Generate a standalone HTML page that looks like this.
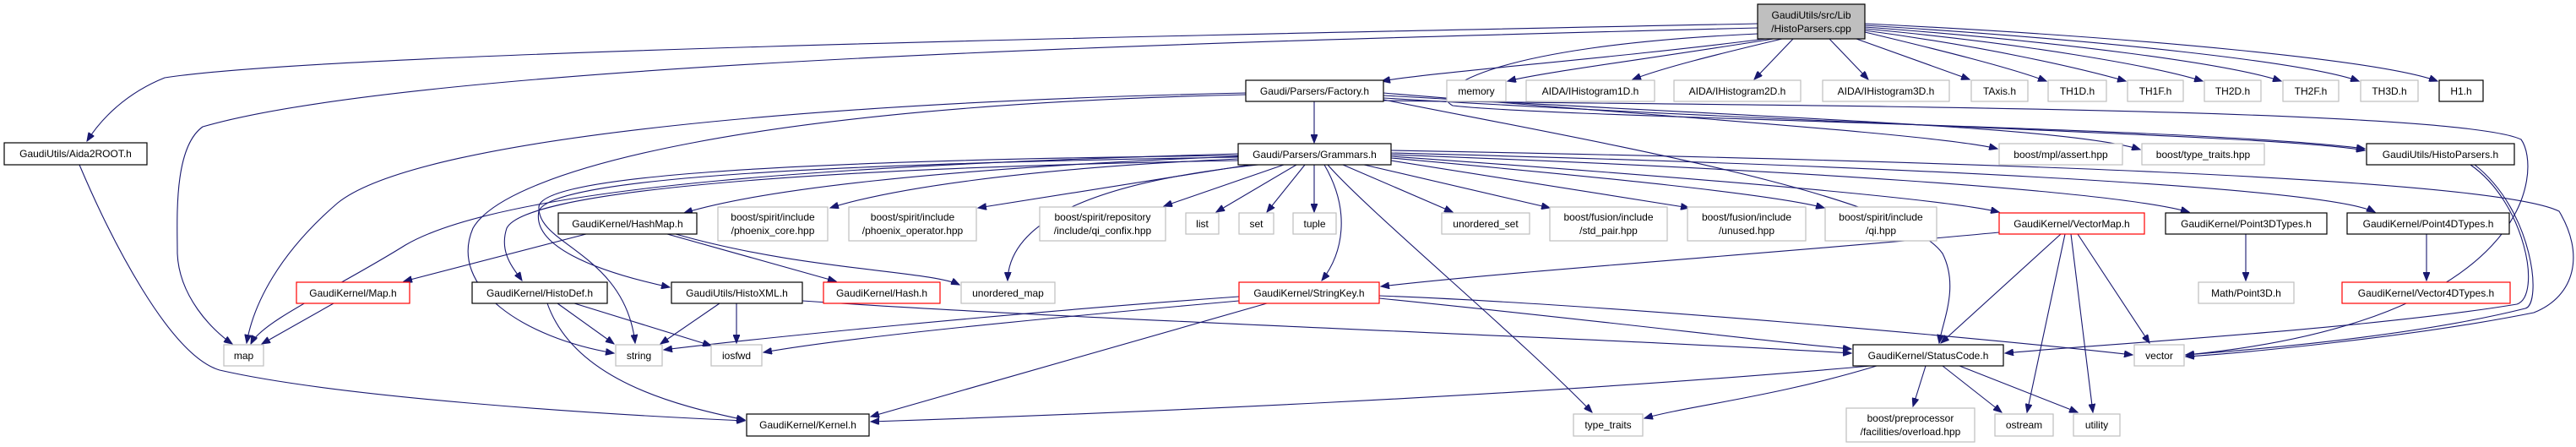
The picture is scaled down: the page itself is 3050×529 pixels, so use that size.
<!DOCTYPE html>
<html><head><meta charset="utf-8"><style>
html,body{margin:0;padding:0;background:#fff;}
svg{display:block;}
text{font-family:"Liberation Sans",Arial,sans-serif;font-size:12px;fill:#000;}
.e{fill:none;stroke:#191970;stroke-width:1.1;marker-end:url(#a);}
.g{fill:#fff;stroke:#bfbfbf;stroke-width:1.2;}
.b{fill:#fff;stroke:#000;stroke-width:1.2;}
.r{fill:#fff;stroke:#ff0000;stroke-width:1.2;}
</style></head><body>
<svg width="3050" height="529" viewBox="0 0 3050 529" xmlns="http://www.w3.org/2000/svg">
<defs><marker id="a" markerUnits="userSpaceOnUse" markerWidth="11" markerHeight="8" refX="10" refY="4" orient="auto"><path d="M0,0 L10,4 L0,8 z" fill="#191970" stroke="#191970"/></marker></defs>
<g>
<!-- main -->
<path class="e" d="M2081,28 C1500,40 400,60 195,92 C150,110 120,140 103,167"/>
<path class="e" d="M2081,33 C1400,50 500,75 240,150 C205,175 210,260 210,300 C212,350 250,390 275,407"/>
<path class="e" d="M2090,46 C1900,70 1700,85 1636,96"/>
<path class="e" d="M2100,46 C1950,70 1830,85 1785,96"/>
<path class="e" d="M2110,46 C2030,65 1970,80 1933,94"/>
<path class="e" d="M2123,46 L2077,94"/>
<path class="e" d="M2166,46 L2212,94"/>
<path class="e" d="M2198,46 L2332,94"/>
<path class="e" d="M2208,38 C2300,60 2380,80 2423,96"/>
<path class="e" d="M2208,36 C2350,55 2460,80 2517,96"/>
<path class="e" d="M2208,34 C2400,52 2550,78 2608,96"/>
<path class="e" d="M2208,32 C2450,50 2640,76 2701,96"/>
<path class="e" d="M2208,30 C2500,48 2730,74 2793,96"/>
<path class="e" d="M2208,28 C2550,45 2820,72 2886,96"/>
<path class="e" d="M2081,40 C1750,55 1690,110 1720,125 C1850,140 2600,150 2800,176"/>
<!-- Factory -->
<path class="e" d="M1556,120 L1556,169"/>
<path class="e" d="M1638,110 C2000,140 2300,160 2365,176"/>
<path class="e" d="M1638,113 C2100,140 2450,150 2534,177"/>
<path class="e" d="M1638,116 C2200,150 2700,160 2800,178"/>
<path class="e" d="M1638,118 C1900,170 2250,230 2300,300 C2320,340 2300,380 2296,406"/>
<path class="e" d="M1638,119 C2000,125 2900,125 2985,165 C3010,200 3000,380 2588,420"/>
<path class="e" d="M1475,110 C1000,120 500,160 400,240 C330,300 300,360 292,406"/>
<path class="e" d="M1475,112 C900,125 600,200 560,270 C530,340 620,400 727,418"/>
<!-- Grammars -->
<path class="e" d="M1466,185 C1100,200 900,225 810,252"/>
<path class="e" d="M1466,188 C1200,200 1050,225 983,246"/>
<path class="e" d="M1480,195 L1158,246"/>
<path class="e" d="M1520,195 L1378,244"/>
<path class="e" d="M1535,195 L1440,251"/>
<path class="e" d="M1545,195 L1500,251"/>
<path class="e" d="M1556,195 L1556,251"/>
<path class="e" d="M1590,195 L1720,251"/>
<path class="e" d="M1615,195 L1835,246"/>
<path class="e" d="M1647,190 L2000,246"/>
<path class="e" d="M1647,187 C1900,210 2100,230 2160,246"/>
<path class="e" d="M1647,185 C2000,210 2300,235 2367,251"/>
<path class="e" d="M1647,183 C2100,200 2500,225 2592,251"/>
<path class="e" d="M1647,181 C2200,195 2750,220 2812,251"/>
<path class="e" d="M1647,178 C2300,190 2950,210 3030,250 C3060,300 3050,350 3000,370 C2850,400 2650,418 2588,422"/>
<path class="e" d="M1466,182 C1000,195 600,220 480,290 C400,340 310,380 297,407"/>
<path class="e" d="M1490,195 C1300,215 1195,260 1193,332"/>
<path class="e" d="M1568,195 C1600,250 1590,300 1565,332"/>
<path class="e" d="M1572,195 C1620,250 1800,400 1885,488"/>
<path class="e" d="M1466,190 C900,200 620,230 600,270 C590,300 610,320 618,332"/>
<path class="e" d="M1466,186 C900,195 650,215 638,250 C630,290 700,320 793,340"/>
<path class="e" d="M1466,184 C900,190 640,210 638,245 C636,290 740,300 752,406"/>
<!-- HistoParsers.h -->
<path class="e" d="M2925,195 C2990,240 3010,350 2980,360 C2800,390 2450,410 2374,418"/>
<path class="e" d="M2930,195 C3000,250 3010,360 2990,365 C2850,400 2650,415 2588,420"/>
<!-- HashMap -->
<path class="e" d="M694,277 L478,333"/>
<path class="e" d="M790,277 L990,333"/>
<path class="e" d="M800,277 C950,320 1100,320 1136,337"/>
<path class="e" d="M395,359 L310,407"/>
<!-- HistoDef -->
<path class="e" d="M660,359 L727,407"/>
<path class="e" d="M680,359 L842,409"/>
<path class="e" d="M648,359 C680,450 800,480 882,497"/>
<!-- HistoXML -->
<path class="e" d="M852,359 L782,407"/>
<path class="e" d="M872,359 L872,406"/>
<path class="e" d="M950,356 C1300,380 1900,400 2192,418"/>
<!-- Aida2ROOT -->
<path class="e" d="M94,195 C130,280 200,420 260,438 C400,470 700,490 882,498"/>
<!-- StringKey -->
<path class="e" d="M1467,351 C1200,370 900,400 786,414"/>
<path class="e" d="M1467,356 C1200,380 1000,400 904,417"/>
<path class="e" d="M1500,359 L1031,493"/>
<path class="e" d="M1633,353 C1900,380 2100,405 2192,413"/>
<path class="e" d="M1633,350 C1900,360 2350,400 2525,420"/>
<!-- VectorMap -->
<path class="e" d="M2367,275 C2100,300 1800,320 1635,339"/>
<path class="e" d="M2440,277 L2298,406"/>
<path class="e" d="M2445,277 L2400,488"/>
<path class="e" d="M2452,277 L2478,488"/>
<path class="e" d="M2460,277 L2545,406"/>
<path class="e" d="M2659,277 L2659,332"/>
<path class="e" d="M2873,277 L2873,332"/>
<!-- StatusCode -->
<path class="e" d="M2215,433 C1800,470 1300,490 1031,499"/>
<path class="e" d="M2222,433 C2100,470 2000,480 1947,495"/>
<path class="e" d="M2280,433 L2265,481"/>
<path class="e" d="M2300,433 L2370,488"/>
<path class="e" d="M2320,433 L2460,488"/>
</g>
<g>
<rect x="2081" y="5" width="127" height="41" fill="#bfbfbf" stroke="#000" stroke-width="1.2"/>
<text x="2144.5" y="22" text-anchor="middle">GaudiUtils/src/Lib</text>
<text x="2144.5" y="38" text-anchor="middle">/HistoParsers.cpp</text>

<rect class="b" x="5" y="169" width="169" height="26"/><text x="89.5" y="186" text-anchor="middle">GaudiUtils/Aida2ROOT.h</text>
<rect class="b" x="1475" y="95" width="163" height="25"/><text x="1556.5" y="112" text-anchor="middle">Gaudi/Parsers/Factory.h</text>
<rect class="g" x="1713" y="95" width="70" height="25"/><text x="1748" y="112" text-anchor="middle">memory</text>
<rect class="g" x="1807" y="95" width="152" height="25"/><text x="1883" y="112" text-anchor="middle">AIDA/IHistogram1D.h</text>
<rect class="g" x="1982" y="95" width="150" height="25"/><text x="2057" y="112" text-anchor="middle">AIDA/IHistogram2D.h</text>
<rect class="g" x="2158" y="95" width="150" height="25"/><text x="2233" y="112" text-anchor="middle">AIDA/IHistogram3D.h</text>
<rect class="g" x="2334" y="95" width="67" height="25"/><text x="2367.5" y="112" text-anchor="middle">TAxis.h</text>
<rect class="g" x="2425" y="95" width="69" height="25"/><text x="2459.5" y="112" text-anchor="middle">TH1D.h</text>
<rect class="g" x="2519" y="95" width="66" height="25"/><text x="2552" y="112" text-anchor="middle">TH1F.h</text>
<rect class="g" x="2610" y="95" width="67" height="25"/><text x="2643.5" y="112" text-anchor="middle">TH2D.h</text>
<rect class="g" x="2703" y="95" width="66" height="25"/><text x="2736" y="112" text-anchor="middle">TH2F.h</text>
<rect class="g" x="2795" y="95" width="68" height="25"/><text x="2829" y="112" text-anchor="middle">TH3D.h</text>
<rect class="b" x="2888" y="95" width="52" height="25"/><text x="2914" y="112" text-anchor="middle">H1.h</text>

<rect class="b" x="1466" y="170" width="181" height="25"/><text x="1556.5" y="187" text-anchor="middle">Gaudi/Parsers/Grammars.h</text>
<rect class="g" x="2367" y="170" width="146" height="25"/><text x="2440" y="187" text-anchor="middle">boost/mpl/assert.hpp</text>
<rect class="g" x="2536" y="170" width="145" height="25"/><text x="2608.5" y="187" text-anchor="middle">boost/type_traits.hpp</text>
<rect class="b" x="2802" y="170" width="175" height="25"/><text x="2889.5" y="187" text-anchor="middle">GaudiUtils/HistoParsers.h</text>

<rect class="b" x="661" y="252" width="164" height="25"/><text x="743" y="269" text-anchor="middle">GaudiKernel/HashMap.h</text>
<rect class="g" x="850" y="245" width="130" height="40"/><text x="915" y="261" text-anchor="middle">boost/spirit/include</text><text x="915" y="277" text-anchor="middle">/phoenix_core.hpp</text>
<rect class="g" x="1005" y="245" width="151" height="40"/><text x="1080.5" y="261" text-anchor="middle">boost/spirit/include</text><text x="1080.5" y="277" text-anchor="middle">/phoenix_operator.hpp</text>
<rect class="g" x="1231" y="245" width="149" height="40"/><text x="1305.5" y="261" text-anchor="middle">boost/spirit/repository</text><text x="1305.5" y="277" text-anchor="middle">/include/qi_confix.hpp</text>
<rect class="g" x="1404" y="252" width="39" height="25"/><text x="1423.5" y="269" text-anchor="middle">list</text>
<rect class="g" x="1467" y="252" width="41" height="25"/><text x="1487.5" y="269" text-anchor="middle">set</text>
<rect class="g" x="1531" y="252" width="51" height="25"/><text x="1556.5" y="269" text-anchor="middle">tuple</text>
<rect class="g" x="1707" y="252" width="104" height="25"/><text x="1759" y="269" text-anchor="middle">unordered_set</text>
<rect class="g" x="1835" y="245" width="139" height="40"/><text x="1904.5" y="261" text-anchor="middle">boost/fusion/include</text><text x="1904.5" y="277" text-anchor="middle">/std_pair.hpp</text>
<rect class="g" x="1998" y="245" width="140" height="40"/><text x="2068" y="261" text-anchor="middle">boost/fusion/include</text><text x="2068" y="277" text-anchor="middle">/unused.hpp</text>
<rect class="g" x="2161" y="245" width="132" height="40"/><text x="2227" y="261" text-anchor="middle">boost/spirit/include</text><text x="2227" y="277" text-anchor="middle">/qi.hpp</text>
<rect class="r" x="2367" y="252" width="172" height="25"/><text x="2453" y="269" text-anchor="middle">GaudiKernel/VectorMap.h</text>
<rect class="b" x="2564" y="252" width="191" height="25"/><text x="2659.5" y="269" text-anchor="middle">GaudiKernel/Point3DTypes.h</text>
<rect class="b" x="2779" y="252" width="192" height="25"/><text x="2875" y="269" text-anchor="middle">GaudiKernel/Point4DTypes.h</text>

<rect class="r" x="351" y="334" width="134" height="25"/><text x="418" y="351" text-anchor="middle">GaudiKernel/Map.h</text>
<rect class="b" x="559" y="334" width="160" height="25"/><text x="639" y="351" text-anchor="middle">GaudiKernel/HistoDef.h</text>
<rect class="b" x="795" y="334" width="155" height="25"/><text x="872.5" y="351" text-anchor="middle">GaudiUtils/HistoXML.h</text>
<rect class="r" x="975" y="334" width="138" height="25"/><text x="1044" y="351" text-anchor="middle">GaudiKernel/Hash.h</text>
<rect class="g" x="1138" y="334" width="111" height="25"/><text x="1193.5" y="351" text-anchor="middle">unordered_map</text>
<rect class="r" x="1467" y="334" width="166" height="25"/><text x="1550" y="351" text-anchor="middle">GaudiKernel/StringKey.h</text>
<rect class="g" x="2603" y="334" width="113" height="25"/><text x="2659.5" y="351" text-anchor="middle">Math/Point3D.h</text>
<rect class="r" x="2773" y="334" width="199" height="25"/><text x="2872.5" y="351" text-anchor="middle">GaudiKernel/Vector4DTypes.h</text>

<rect class="g" x="265" y="408" width="47" height="25"/><text x="288.5" y="425" text-anchor="middle">map</text>
<rect class="g" x="729" y="408" width="55" height="25"/><text x="756.5" y="425" text-anchor="middle">string</text>
<rect class="g" x="842" y="408" width="60" height="25"/><text x="872" y="425" text-anchor="middle">iosfwd</text>
<rect class="b" x="2194" y="408" width="178" height="25"/><text x="2283" y="425" text-anchor="middle">GaudiKernel/StatusCode.h</text>
<rect class="g" x="2527" y="408" width="59" height="25"/><text x="2556.5" y="425" text-anchor="middle">vector</text>

<rect class="b" x="884" y="490" width="145" height="26"/><text x="956.5" y="507" text-anchor="middle">GaudiKernel/Kernel.h</text>
<rect class="g" x="1863" y="490" width="82" height="26"/><text x="1904" y="507" text-anchor="middle">type_traits</text>
<rect class="g" x="2186" y="483" width="152" height="40"/><text x="2262" y="499" text-anchor="middle">boost/preprocessor</text><text x="2262" y="515" text-anchor="middle">/facilities/overload.hpp</text>
<rect class="g" x="2362" y="490" width="69" height="26"/><text x="2396.5" y="507" text-anchor="middle">ostream</text>
<rect class="g" x="2455" y="490" width="55" height="26"/><text x="2482.5" y="507" text-anchor="middle">utility</text>
</g>
</svg>
</body></html>
